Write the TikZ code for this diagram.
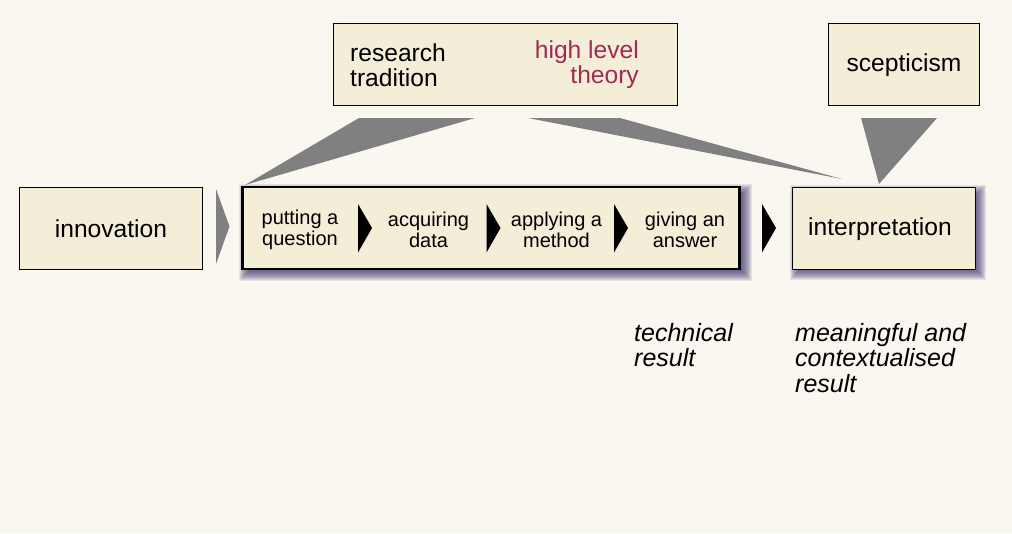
\documentclass[tikz,border=0pt]{standalone}
\usepackage{fontspec}
\setmainfont{Liberation Sans}
\usetikzlibrary{backgrounds}
\definecolor{bgcol}{HTML}{F9F7F0}
\definecolor{boxfill}{HTML}{F4EDD8}
\definecolor{conngray}{HTML}{808080}
\definecolor{theorycol}{HTML}{9E2B55}
\definecolor{shadowcol}{HTML}{3E3470}
\newcommand\twolines[3][l]{\begin{tabular}[t]{@{}#1@{}}#2\\#3\end{tabular}}
\newcommand\softshadow[1]{%
  \foreach \k in {0,...,10}{%
    \pgfmathsetmacro\ee{6.5-1.0*\k}%
    \fill[shadowcol, opacity=0.11]
      ([shift={(4.5-\ee,4.5-\ee)}]#1.north west) rectangle ([shift={(4.5+\ee,4.5+\ee)}]#1.south east);
  }}
\begin{document}
\begin{tikzpicture}[x=1pt,y=-1pt,
  box/.style={draw=black, line width=0.9pt, fill=boxfill, inner sep=0pt, minimum height=82pt},
  big/.style={font=\fontsize{24.6}{25}\selectfont, inner sep=0pt},
  small/.style={font=\fontsize{20}{21}\selectfont, inner sep=0pt},
  note/.style={font=\fontsize{25}{25}\selectfont\itshape, inner sep=0pt},
  grayconn/.style={fill=conngray, draw=none},
  blackconn/.style={fill=black, draw=none}]
\useasboundingbox (0,0) rectangle (1012,533);

% boxes
\node[box, minimum width=183pt] (innov) at (110.5,228) {};
\node[box, line width=2.4pt, minimum width=497pt] (proc) at (491,228) {};
\node[box, minimum width=183pt] (interp) at (883.5,228) {};
\node[box, minimum width=344pt] (research) at (505,64.5) {};
\node[box, minimum width=151pt] (scept) at (903.5,64.5) {};

\begin{pgfonlayer}{background}
  \fill[bgcol] (0,0) rectangle (1012,533);
  \softshadow{proc}
  \softshadow{interp}
\end{pgfonlayer}

% box texts
\node[big, anchor=base] (tinnov) at (111,237) {innovation};
\node[big, anchor=base] (tinterp) at (880,235) {interpretation};
\node[big, anchor=base] (tscept) at (904,71) {scepticism};
\node[big, anchor=base west] (tres) at (350,61) {\twolines{research}{tradition}};
\node[big, anchor=base east, text=theorycol] (ttheory) at (639,58) {\twolines[r]{high level}{theory}};

% process steps
\node[small, anchor=base] (s1) at (300,224) {\twolines[c]{putting a}{question}};
\node[small, anchor=base] (s2) at (428.5,226) {\twolines[c]{acquiring}{data}};
\node[small, anchor=base] (s3) at (556.5,226) {\twolines[c]{applying a}{method}};
\node[small, anchor=base] (s4) at (685,226) {\twolines[c]{giving an}{answer}};

% notes
\node[note, anchor=base west] (ntech) at (634,341) {\twolines{technical}{result}};
\node[note, anchor=base west] (nmean) at (795,341) {\begin{tabular}[t]{@{}l@{}}meaningful and\\contextualised\\result\end{tabular}};

% connector coordinates
\coordinate (g1a) at (216,189); \coordinate (g1b) at (216,264); \coordinate (g1t) at (229.5,226.5);
\coordinate (r1a) at (359,118); \coordinate (r1b) at (475,118); \coordinate (r1t) at (245,185);
\coordinate (r2a) at (528,118); \coordinate (r2b) at (620,118); \coordinate (r2t) at (842,179);
\coordinate (c1a) at (861,118); \coordinate (c1b) at (937,118); \coordinate (c1t) at (879,184);

% gray connectors
\fill[grayconn] (g1a) -- (g1t) -- (g1b) -- cycle;
\fill[grayconn] (r1a) -- (r1b) -- (r1t) -- cycle;
\fill[grayconn] (r2a) -- (r2b) -- (r2t) -- cycle;
\fill[grayconn] (c1a) -- (c1b) -- (c1t) -- cycle;

% black step arrows
\foreach \n/\xx in {a1/358, a2/486.5, a3/614, a4/762}{
  \coordinate (\n top) at (\xx,204);
  \coordinate (\n bot) at (\xx,252.5);
  \coordinate (\n tip) at (\xx+14,228);
  \fill[blackconn] (\n top) -- (\n tip) -- (\n bot) -- cycle;
}
\end{tikzpicture}
\end{document}
